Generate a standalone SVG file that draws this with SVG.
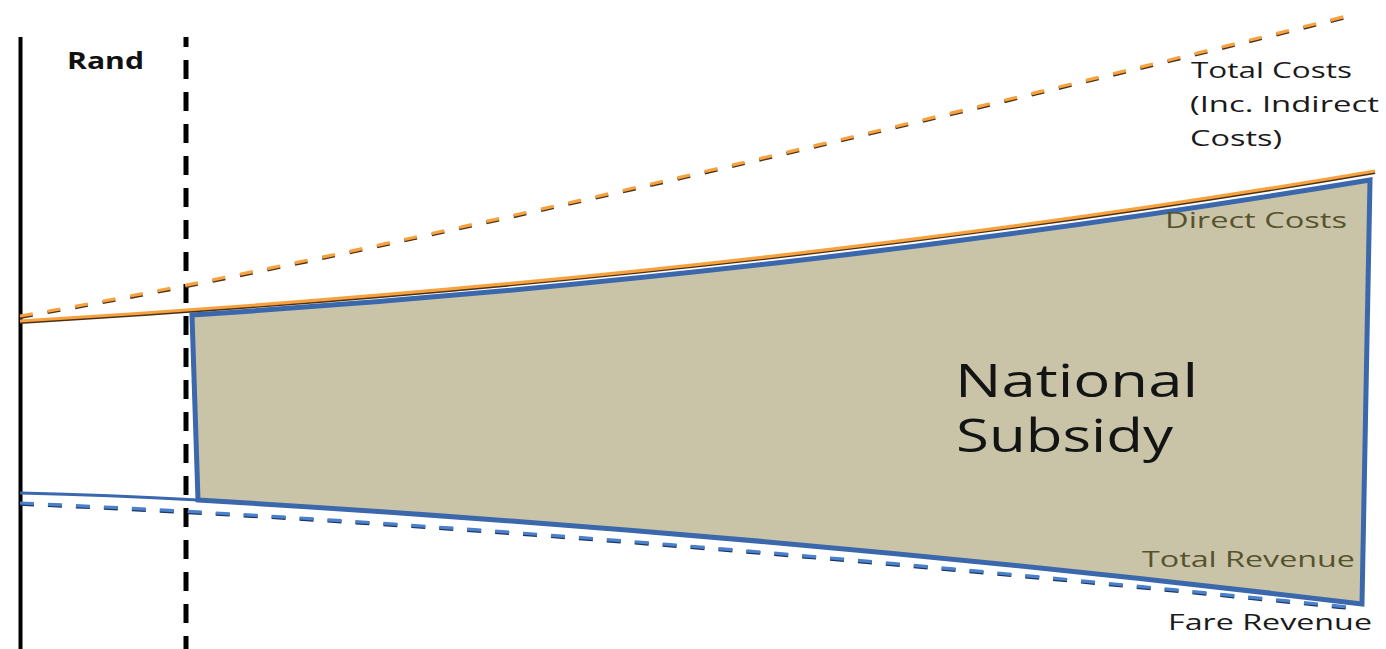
<svg xmlns="http://www.w3.org/2000/svg" width="1386" height="649" viewBox="0 0 1386 649">
<style>
text{font-family:"Open Sans","DejaVu Sans",sans-serif;font-weight:500;}
.lbl{font-size:22px;fill:#1a1a1a;}
.olive{font-size:22px;fill:#57522e;}
.big{font-size:46px;fill:#141414;}
.ax{stroke:#000;fill:none;}
.orShadow{stroke:#4a3018;stroke-width:3.2;fill:none;}
.or{stroke:#f7a23e;stroke-width:3.2;fill:none;}
.blShadow{stroke:#1d3560;stroke-width:3.6;fill:none;}
.bl{stroke:#4a80cc;stroke-width:3.2;fill:none;}
</style>
<rect width="1386" height="649" fill="#fff"/>
<g id="subsidy-area">
<path d="M192,315 C592,289 968,246 1370,180 L1362,604 C972,557 588,523 198,500 Z" fill="#c9c4a7" stroke="#3b67ac" stroke-width="5" stroke-linejoin="miter"/>
<text class="big" x="955" y="397" textLength="243" lengthAdjust="spacingAndGlyphs">National</text>
<text class="big" x="956" y="452" textLength="217" lengthAdjust="spacingAndGlyphs">Subsidy</text>
</g>
<g id="connectors">
<line id="y-axis" class="ax" x1="20.5" y1="37" x2="20.5" y2="649" stroke-width="4"/>
<line id="cut-off" class="ax" x1="186" y1="37" x2="186" y2="649" stroke-width="5" stroke-dasharray="19 13" stroke-dashoffset="9"/>
<g id="total-costs-line">
<path class="orShadow" transform="translate(0,1.3)" d="M20,316 Q409,250 1355,14" stroke-dasharray="13 15"/>
<path class="or" d="M20,316 Q409,250 1355,14" stroke-dasharray="13 15"/>
</g>
<g id="direct-costs-line">
<path class="orShadow" transform="translate(0,1.3)" d="M20,321 C470,294 925,247.5 1375,171"/>
<path class="or" d="M20,321 C470,294 925,247.5 1375,171"/>
</g>
<g id="total-revenue-line">
<path d="M20,493 Q110,495 198,500" stroke="#3b67ac" stroke-width="2.8" fill="none"/>
</g>
<g id="fare-revenue-line">
<path class="blShadow" transform="translate(0,1)" d="M20,503 C466,523 912,563 1358,608" stroke-dasharray="14 14"/>
<path class="bl" d="M20,503 C466,523 912,563 1358,608" stroke-dasharray="14 14"/>
</g>
</g>
<g id="rand-label">
<text x="67" y="69" font-size="24" font-weight="bold" fill="#111" textLength="77" lengthAdjust="spacingAndGlyphs" style="font-weight:bold">Rand</text>
</g>
<g id="total-costs-label">
<text class="lbl" x="1191" y="78" textLength="161" lengthAdjust="spacingAndGlyphs">Total Costs</text>
<text class="lbl" x="1190" y="112" textLength="189" lengthAdjust="spacingAndGlyphs">(Inc. Indirect</text>
<text class="lbl" x="1190" y="146" textLength="92" lengthAdjust="spacingAndGlyphs">Costs)</text>
</g>
<g id="direct-costs-label">
<text class="olive" x="1165" y="228" textLength="182" lengthAdjust="spacingAndGlyphs">Direct Costs</text>
</g>
<g id="total-revenue-label">
<text class="olive" x="1142" y="567" textLength="213" lengthAdjust="spacingAndGlyphs">Total Revenue</text>
</g>
<g id="fare-revenue-label">
<text class="lbl" x="1168" y="630" textLength="204" lengthAdjust="spacingAndGlyphs">Fare Revenue</text>
</g>
</svg>
